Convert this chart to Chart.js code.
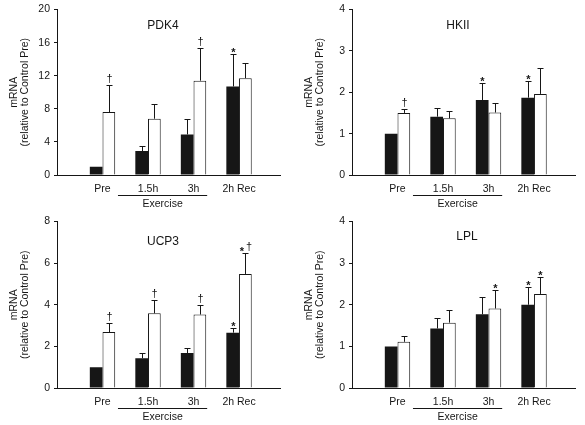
<!DOCTYPE html>
<html>
<head>
<meta charset="utf-8">
<script src="https://cdn.jsdelivr.net/npm/chart.js@4.4.0/dist/chart.umd.min.js"></script>
<style>
  body { margin: 0; background: #fff; }
  #wrap { position: relative; width: 585px; height: 425px; }
  canvas { position: absolute; }
</style>
</head>
<body>
<div id="wrap">
  <canvas id="pdk4" width="290" height="212" style="left:0;top:0"></canvas>
  <canvas id="hkii" width="290" height="212" style="left:295px;top:0"></canvas>
  <canvas id="ucp3" width="290" height="213" style="left:0;top:212px"></canvas>
  <canvas id="lpl" width="290" height="213" style="left:295px;top:212px"></canvas>
</div>
<script>
// x categories, shared by all four panels
const categories = ["Pre", "1.5h", "3h", "2h Rec"];
const yTitle = ["mRNA", "(relative to Control Pre)"];

// PDK4 (filled = black bars, open = white bars, err = upward error)
const pdk4Filled = [1.0, 2.9, 4.9, 10.7];
const pdk4FilledErr = [0, 0.6, 1.9, 3.9];
const pdk4Open = [7.6, 6.8, 11.4, 11.7];
const pdk4OpenErr = [3.3, 1.8, 4.0, 1.8];
const pdk4FilledMarks = ["", "", "", "*"];
const pdk4OpenMarks = ["†", "", "†", ""];
const pdk4Ticks = [0, 4, 8, 12, 16, 20];

// HKII
const hkiiFilled = [1.0, 1.41, 1.81, 1.87];
const hkiiFilledErr = [0, 0.2, 0.42, 0.41];
const hkiiOpen = [1.5, 1.37, 1.51, 1.96];
const hkiiOpenErr = [0.09, 0.18, 0.24, 0.63];
const hkiiFilledMarks = ["", "", "*", "*"];
const hkiiOpenMarks = ["†", "", "", ""];
const hkiiTicks = [0, 1, 2, 3, 4];

// UCP3
const ucp3Filled = [1.0, 1.43, 1.68, 2.66];
const ucp3FilledErr = [0, 0.24, 0.22, 0.22];
const ucp3Open = [2.69, 3.59, 3.53, 5.48];
const ucp3OpenErr = [0.41, 0.64, 0.44, 1.01];
const ucp3FilledMarks = ["", "", "", "*"];
const ucp3OpenMarks = ["†", "†", "†", "*†"];
const ucp3Ticks = [0, 2, 4, 6, 8];

// LPL
const lplFilled = [1.0, 1.43, 1.77, 2.0];
const lplFilledErr = [0, 0.26, 0.41, 0.43];
const lplOpen = [1.11, 1.57, 1.91, 2.26];
const lplOpenErr = [0.15, 0.30, 0.44, 0.41];
const lplFilledMarks = ["", "", "", "*"];
const lplOpenMarks = ["", "", "*", "*"];
const lplTicks = [0, 1, 2, 3, 4];

const ink = "#161616";
const family = "'Liberation Sans', Arial, sans-serif";

const panels = [
  { id: "pdk4", title: "PDK4", titleX: 106, titleY: 16, ticks: pdk4Ticks,
    filled: pdk4Filled, filledErr: pdk4FilledErr, filledMarks: pdk4FilledMarks,
    open: pdk4Open, openErr: pdk4OpenErr, openMarks: pdk4OpenMarks },
  { id: "hkii", title: "HKII", titleX: 106, titleY: 16, ticks: hkiiTicks,
    filled: hkiiFilled, filledErr: hkiiFilledErr, filledMarks: hkiiFilledMarks,
    open: hkiiOpen, openErr: hkiiOpenErr, openMarks: hkiiOpenMarks },
  { id: "ucp3", title: "UCP3", titleX: 106, titleY: 20, ticks: ucp3Ticks,
    filled: ucp3Filled, filledErr: ucp3FilledErr, filledMarks: ucp3FilledMarks,
    open: ucp3Open, openErr: ucp3OpenErr, openMarks: ucp3OpenMarks },
  { id: "lpl", title: "LPL", titleX: 115, titleY: 15, ticks: lplTicks,
    filled: lplFilled, filledErr: lplFilledErr, filledMarks: lplFilledMarks,
    open: lplOpen, openErr: lplOpenErr, openMarks: lplOpenMarks },
];

// error bars, significance marks, panel title and the "Exercise" bracket
const extras = {
  id: "extras",
  afterDatasetsDraw(chart) {
    const p = chart.options.plugins.extras.panel;
    const ctx = chart.ctx;
    const xs = chart.scales.x, ys = chart.scales.y;
    const area = chart.chartArea;
    ctx.save();
    ctx.strokeStyle = ink;
    ctx.fillStyle = ink;
    ctx.lineWidth = 1;
    chart.data.datasets.forEach((ds, di) => {
      const meta = chart.getDatasetMeta(di);
      meta.data.forEach((bar, i) => {
        const x = Math.round(bar.x) + 0.5;
        const top = ys.getPixelForValue(ds.data[i].y + ds.errors[i]);
        if (ds.errors[i] > 0) {
          ctx.beginPath();
          ctx.moveTo(x, bar.y);
          ctx.lineTo(x, Math.round(top) + 0.5);
          ctx.moveTo(x - 3, Math.round(top) + 0.5);
          ctx.lineTo(x + 3, Math.round(top) + 0.5);
          ctx.stroke();
        }
        const mark = ds.marks[i];
        if (!mark) return;
        ctx.textAlign = "center";
        ctx.textBaseline = "alphabetic";
        const chars = mark.split("");
        chars.forEach((c, k) => {
          const cx = x + (k - (chars.length - 1) / 2) * 7;
          if (c === "*") {
            ctx.font = "bold 11px " + family;
            ctx.fillText(c, cx, top + 2);
          } else {
            ctx.font = "11px " + family;
            ctx.fillText(c, cx, top - 3);
          }
        });
      });
    });
    // panel title
    ctx.font = "12px " + family;
    ctx.textAlign = "center";
    ctx.textBaseline = "middle";
    ctx.fillText(p.title, area.left + p.titleX, area.top + p.titleY);
    // Exercise bracket under 1.5h and 3h
    const x0 = xs.getPixelForValue(1.34), x1 = xs.getPixelForValue(3.3);
    const yl = Math.round(area.bottom + 20) + 0.5;
    ctx.beginPath();
    ctx.moveTo(x0, yl);
    ctx.lineTo(x1, yl);
    ctx.stroke();
    ctx.font = "10.5px " + family;
    ctx.fillText("Exercise", (x0 + x1) / 2, area.bottom + 29);
    ctx.restore();
  }
};

panels.forEach((p) => {
  const font = { family: family, size: 10.5, lineHeight: 1.05 };
  new Chart(document.getElementById(p.id), {
    type: "bar",
    data: {
      datasets: [
        {
          data: p.filled.map((v, i) => ({ x: i + 1, y: v })),
          errors: p.filledErr,
          marks: p.filledMarks,
          backgroundColor: ink,
          borderWidth: 0,
          categoryPercentage: 0.62,
          barPercentage: 1.0,
        },
        {
          data: p.open.map((v, i) => ({ x: i + 1, y: v })),
          errors: p.openErr,
          marks: p.openMarks,
          backgroundColor: "#ffffff",
          borderColor: ink,
          borderWidth: 1,
          categoryPercentage: 0.62,
          barPercentage: 1.0,
        },
      ],
    },
    options: {
      responsive: false,
      animation: false,
      layout: { padding: { top: 9, right: 10, left: 0, bottom: 0 } },
      plugins: {
        legend: { display: false },
        tooltip: { enabled: false },
        extras: { panel: p },
      },
      scales: {
        x: {
          type: "linear",
          min: 0,
          max: 4.9,
          offset: false,
          grid: { display: false, drawTicks: false, offset: false },
          border: { display: true, color: ink, width: 1 },
          ticks: {
            stepSize: 1,
            autoSkip: false,
            maxRotation: 0,
            padding: 9,
            color: ink,
            font: font,
            callback: (v) => categories[v - 1] || "",
          },
          afterFit: (s) => { s.height = 37; },
        },
        y: {
          min: 0,
          max: p.ticks[p.ticks.length - 1],
          afterBuildTicks: (s) => { s.ticks = p.ticks.map((v) => ({ value: v })); },
          grid: { drawOnChartArea: false, drawTicks: true, tickLength: 3, color: ink },
          border: { display: true, color: ink, width: 1 },
          ticks: { padding: 4, color: ink, font: font },
          title: { display: true, text: yTitle, color: ink, font: font, padding: { top: 9, bottom: 0 } },
          afterFit: (s) => { s.width = 57; },
        },
      },
    },
    plugins: [extras],
  });
});
</script>
</body>
</html>
